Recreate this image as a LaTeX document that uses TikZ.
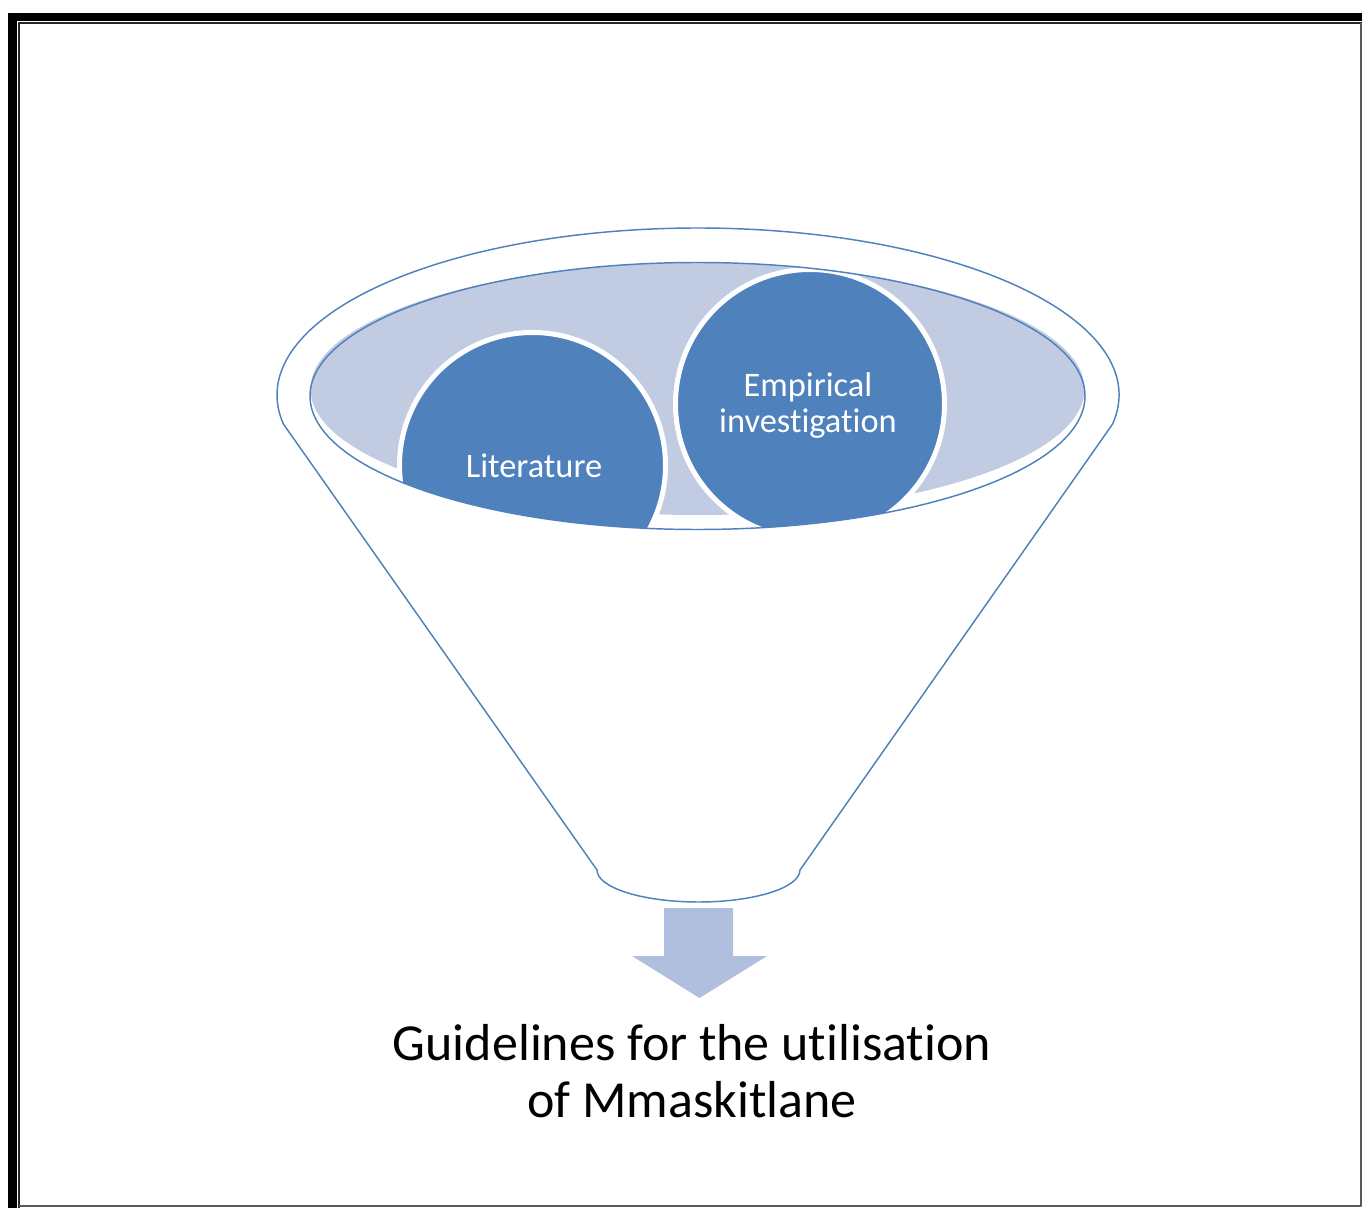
\documentclass[tikz,border=0pt]{standalone}
\usepackage{fontspec}
\setmainfont{Carlito}[Ligatures={NoCommon}]
\definecolor{rimblue}{RGB}{79,129,189}
\definecolor{ballblue}{RGB}{79,129,189}
\definecolor{bowlfill}{RGB}{193,204,226}
\definecolor{arrowfill}{RGB}{175,191,221}
\tikzset{
  rim/.style={draw=rimblue, line width=1.1pt},
  ball/.style={fill=ballblue, draw=white, line width=3.75pt},
  balltext/.style={text=white, inner sep=0pt, align=center,
    font=\fontsize{25.8}{27}\selectfont},
  caption/.style={text=black, inner sep=0pt, align=center,
    font=\fontsize{39}{42.75}\selectfont},
}
\begin{document}
\begin{tikzpicture}[x=0.75pt, y=0.75pt, line join=round]
\useasboundingbox (0,0) rectangle (1362,1208);

% page frame: heavy rule top and left, thin rules inside and round the rest
\fill[black] (8,1195) rectangle (1362,1187);
\fill[black] (8,1195) rectangle (17,0);
\draw[line width=1.1pt, black!85] (19,0) -- (19,1185) -- (1362,1185);
\draw[line width=1.5pt, black!65] (19,2) -- (1361,2) -- (1361,1185);

% funnel body: upper rim arc, straight sides, rounded spout
\draw[rim, fill=white]
  (1112.6,784) arc[start angle=-10, end angle=190, x radius=421, y radius=167]
  -- (597,338)
  arc[start angle=180, end angle=360, x radius=101.5, y radius=32]
  -- cycle;

% bowl surface
\fill[bowlfill] (697.5,819) ellipse[x radius=387, y radius=126];

% the two balls, cut off by the bowl edge
\begin{scope}
  \clip (697.5,812) ellipse[x radius=387.5, y radius=133.5];
  \path[ball] (532.5,742.5) circle[radius=133];
  \path[ball] (810,804) circle[radius=134.5];
\end{scope}
\draw[rim] (697.5,812) ellipse[x radius=387.5, y radius=133.5];

\node[balltext] (lit) at (534,742) {Literature};
\node[balltext] (emp) at (808,802) {Empirical\\investigation};

% outlet arrow
\fill[arrowfill] (664,300) -- (733,300) -- (733,252) -- (767,252)
  -- (699.5,210) -- (632,252) -- (664,252) -- cycle;

\node[caption] (guide) at (692,136.5)
  {Guidelines for the utilisation\\of Mmaskitlane};
\end{tikzpicture}
\end{document}
